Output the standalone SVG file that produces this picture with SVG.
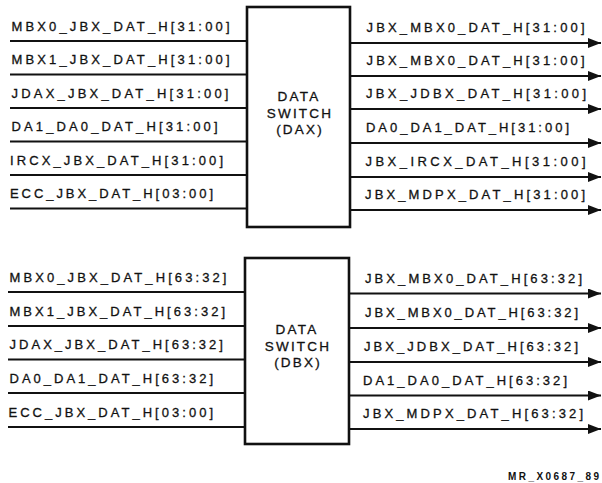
<svg xmlns="http://www.w3.org/2000/svg" width="602" height="483" viewBox="0 0 602 483">
<style>
.lbl{font-family:"Liberation Sans",Arial,sans-serif;font-size:13px;fill:#111;stroke:#111;stroke-width:0.3;}
.ctr{font-family:"Liberation Sans",Arial,sans-serif;font-size:13.5px;fill:#111;stroke:#111;stroke-width:0.3;text-anchor:middle;letter-spacing:2.2px;}
.box{fill:#fff;stroke:#111;stroke-width:2.6;}
.sig{stroke:#111;stroke-width:2;fill:none;}
.out{stroke:#111;stroke-width:2;fill:none;marker-end:url(#arr);}
.ft{font-family:"Liberation Sans",Arial,sans-serif;font-size:10px;font-weight:bold;fill:#111;}
</style>
<defs>
<marker id="arr" markerUnits="userSpaceOnUse" markerWidth="14" markerHeight="11" refX="13" refY="5" orient="auto">
<path d="M0,0 L13,5 L0,10 z" fill="#111"/>
</marker>
</defs>
<rect width="602" height="483" fill="#fff"/>
<g id="connectors">
<line class="sig" x1="10" y1="41" x2="247" y2="41"/>
<line class="sig" x1="10" y1="74.5" x2="247" y2="74.5"/>
<line class="sig" x1="10" y1="108" x2="247" y2="108"/>
<line class="sig" x1="10" y1="141.5" x2="247" y2="141.5"/>
<line class="sig" x1="10" y1="175" x2="247" y2="175"/>
<line class="sig" x1="10" y1="208.5" x2="247" y2="208.5"/>
<line class="out" x1="350" y1="43" x2="601" y2="43"/>
<line class="out" x1="350" y1="76" x2="601" y2="76"/>
<line class="out" x1="350" y1="109" x2="601" y2="109"/>
<line class="out" x1="350" y1="143" x2="601" y2="143"/>
<line class="out" x1="350" y1="177" x2="601" y2="177"/>
<line class="out" x1="350" y1="210" x2="601" y2="210"/>
<line class="sig" x1="8" y1="292" x2="245" y2="292"/>
<line class="sig" x1="8" y1="326" x2="245" y2="326"/>
<line class="sig" x1="8" y1="359.5" x2="245" y2="359.5"/>
<line class="sig" x1="8" y1="393" x2="245" y2="393"/>
<line class="sig" x1="8" y1="427" x2="245" y2="427"/>
<line class="out" x1="349" y1="293.5" x2="601" y2="293.5"/>
<line class="out" x1="349" y1="328" x2="601" y2="328"/>
<line class="out" x1="349" y1="362" x2="601" y2="362"/>
<line class="out" x1="349" y1="395.5" x2="601" y2="395.5"/>
<line class="out" x1="349" y1="429" x2="601" y2="429"/>
</g>
<g id="labels">
<text class="lbl" x="11.5" y="30.5" textLength="218" lengthAdjust="spacing">MBX0_JBX_DAT_H[31:00]</text>
<text class="lbl" x="11.5" y="64" textLength="218" lengthAdjust="spacing">MBX1_JBX_DAT_H[31:00]</text>
<text class="lbl" x="11.5" y="97.5" textLength="217" lengthAdjust="spacing">JDAX_JBX_DAT_H[31:00]</text>
<text class="lbl" x="11.5" y="131" textLength="206" lengthAdjust="spacing">DA1_DA0_DAT_H[31:00]</text>
<text class="lbl" x="10" y="164.5" textLength="213" lengthAdjust="spacing">IRCX_JBX_DAT_H[31:00]</text>
<text class="lbl" x="10" y="198" textLength="203" lengthAdjust="spacing">ECC_JBX_DAT_H[03:00]</text>
<text class="lbl" x="366.5" y="32" textLength="218" lengthAdjust="spacing">JBX_MBX0_DAT_H[31:00]</text>
<text class="lbl" x="366.5" y="65" textLength="218" lengthAdjust="spacing">JBX_MBX0_DAT_H[31:00]</text>
<text class="lbl" x="366" y="98" textLength="220" lengthAdjust="spacing">JBX_JDBX_DAT_H[31:00]</text>
<text class="lbl" x="366" y="132" textLength="203" lengthAdjust="spacing">DA0_DA1_DAT_H[31:00]</text>
<text class="lbl" x="365.5" y="166" textLength="220" lengthAdjust="spacing">JBX_IRCX_DAT_H[31:00]</text>
<text class="lbl" x="365" y="199" textLength="220" lengthAdjust="spacing">JBX_MDPX_DAT_H[31:00]</text>
<text class="lbl" x="9.5" y="282" textLength="217" lengthAdjust="spacing">MBX0_JBX_DAT_H[63:32]</text>
<text class="lbl" x="9.5" y="315.5" textLength="215.5" lengthAdjust="spacing">MBX1_JBX_DAT_H[63:32]</text>
<text class="lbl" x="9.5" y="349" textLength="213.5" lengthAdjust="spacing">JDAX_JBX_DAT_H[63:32]</text>
<text class="lbl" x="9.5" y="382.5" textLength="203.5" lengthAdjust="spacing">DA0_DA1_DAT_H[63:32]</text>
<text class="lbl" x="8.5" y="416.5" textLength="204.5" lengthAdjust="spacing">ECC_JBX_DAT_H[03:00]</text>
<text class="lbl" x="365" y="282.5" textLength="217" lengthAdjust="spacing">JBX_MBX0_DAT_H[63:32]</text>
<text class="lbl" x="365" y="317" textLength="213" lengthAdjust="spacing">JBX_MBX0_DAT_H[63:32]</text>
<text class="lbl" x="364" y="351" textLength="214" lengthAdjust="spacing">JBX_JDBX_DAT_H[63:32]</text>
<text class="lbl" x="363" y="384.5" textLength="204" lengthAdjust="spacing">DA1_DA0_DAT_H[63:32]</text>
<text class="lbl" x="363" y="418" textLength="220" lengthAdjust="spacing">JBX_MDPX_DAT_H[63:32]</text>
</g>
<g id="dax">
<rect class="box" x="247" y="7" width="103" height="220"/>
<text class="ctr" x="299" y="101">DATA</text>
<text class="ctr" x="300" y="118">SWITCH</text>
<text class="ctr" x="300" y="134">(DAX)</text>
</g>
<g id="dbx">
<rect class="box" x="245" y="258" width="104" height="186"/>
<text class="ctr" x="297" y="334">DATA</text>
<text class="ctr" x="298" y="351">SWITCH</text>
<text class="ctr" x="298" y="367">(DBX)</text>
</g>
<text class="ft" x="508" y="480" textLength="91" lengthAdjust="spacing">MR_X0687_89</text>
</svg>
